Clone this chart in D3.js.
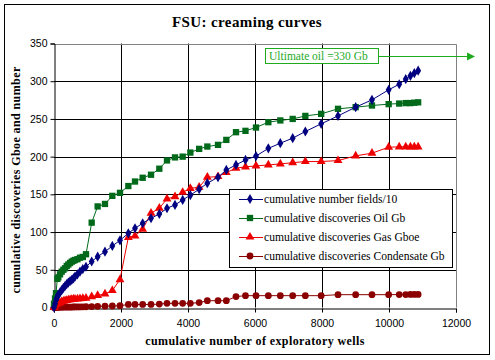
<!DOCTYPE html>
<html>
<head>
<meta charset="utf-8">
<title>FSU creaming curves</title>
<script src="https://cdn.jsdelivr.net/npm/d3@7"></script>
<style>
  body { margin: 0; background: #fff; }
</style>
</head>
<body>
<script>
// cumulative number of exploratory wells
var wells = [0, 30, 60, 100, 128, 180, 230, 280, 330, 380, 428, 480, 530, 580, 627, 700, 776, 860, 955,
  1125, 1303, 1522, 1741, 1970, 2219, 2418, 2647, 2896, 3144, 3373, 3612, 3841, 4070, 4333, 4577, 4896,
  5144, 5433, 5716, 6030, 6398, 6756, 7125, 7503, 7975, 8478, 9005, 9492, 9990, 10305, 10500, 10640, 10755, 10870];

var fields = [0, 5, 10, 14, 17, 20, 23, 26, 28.5, 31, 33, 35, 36.5, 38.5, 41, 44, 47.5, 51, 54,
  61, 67.4, 74, 81.6, 89, 98.4, 105, 111.7, 118.3, 124, 131.6, 136, 142.6, 149, 156.8, 164.8, 172.7,
  182.4, 189, 195.7, 200.7, 211, 217.8, 224.5, 233.3, 243.5, 254, 265.6, 275.3, 288.6, 296, 302.8, 307.2, 310.7, 314];

var oil = [5, 12, 19, 38, 40, 44, 47.5, 50, 52, 55, 57, 59, 60.8, 62, 63, 64, 66, 67, 70.6,
  112.5, 134, 137.3, 148, 152, 161, 167, 172, 176, 184, 195, 199, 200, 205.4, 210.3, 213.4, 215.6,
  222.2, 232.4, 234.2, 238.6, 245.7, 248, 250, 254, 256.7, 263.4, 265.6, 267.8, 269.6, 270.4, 271, 271, 271.5, 272];

var gas = [0, 2, 4, 5, 5.6, 6.5, 7.7, 8.5, 9, 9.5, 10, 10.5, 10.9, 11, 11.2, 11.5, 11.8, 12, 12.5,
  14.3, 16, 18, 22.5, 37, 93, 95, 103.7, 125, 131.6, 144, 147, 152.8, 158, 159.5, 172.7, 173.6,
  178.9, 184.7, 186.5, 187.7, 189, 190.4, 192, 193.5, 193.5, 194.8, 201, 204.6, 212.5, 213, 213, 213, 213, 213];

var condensate = [0, 0.1, 0.2, 0.3, 0.3, 0.4, 0.4, 0.5, 0.5, 0.5, 0.6, 0.6, 0.6, 0.7, 0.7, 0.8, 0.8, 0.9, 1,
  1.2, 1.5, 1.8, 2, 2.4, 4, 4, 4, 4, 4.5, 5.5, 5.5, 5.5, 5.5, 6.5, 9, 9, 9,
  14.5, 15.7, 15.7, 15.7, 15.7, 15.7, 15.7, 15.7, 17, 17, 17, 17, 17.2, 17.2, 17.3, 17.3, 17.3];

var seriesNames = ["cumulative number fields/10", "cumulative discoveries Oil Gb",
  "cumulative discoveries Gas Gboe", "cumulative discoveries Condensate Gb"];

var xTicks = [0, 2000, 4000, 6000, 8000, 10000, 12000];
var yTicks = [0, 50, 100, 150, 200, 250, 300, 350];

var width = 495, height = 360;
var serif = "Liberation Serif, Times New Roman, serif";
var svg = d3.select("body").append("svg")
  .attr("width", width)
  .attr("height", height);

// chart frame
svg.append("rect")
  .attr("x", 4.5).attr("y", 4.5)
  .attr("width", 485).attr("height", 350)
  .attr("fill", "#fff").attr("stroke", "#000");

var plot = { left: 54, right: 456, top: 43.5, bottom: 307.5 };

var x = d3.scaleLinear().domain([0, 12000]).range([plot.left, plot.right]);
var y = d3.scaleLinear().domain([0, 350]).range([plot.bottom, plot.top]);

svg.append("text")
  .attr("x", 247).attr("y", 27)
  .attr("text-anchor", "middle")
  .attr("font-family", serif)
  .attr("font-size", 15).attr("font-weight", "bold")
  .attr("letter-spacing", 0.4)
  .text("FSU: creaming curves");

// grid
var grid = svg.append("g");
grid.selectAll("line.h")
  .data(yTicks.slice(1, -1))
  .enter().append("line")
  .attr("x1", plot.left).attr("x2", plot.right)
  .attr("y1", function(d) { return Math.round(y(d)) + 0.5; })
  .attr("y2", function(d) { return Math.round(y(d)) + 0.5; })
  .attr("stroke", "#000");
grid.selectAll("line.v")
  .data(xTicks.slice(1, -1))
  .enter().append("line")
  .attr("y1", plot.top).attr("y2", plot.bottom)
  .attr("x1", function(d) { return Math.round(x(d)) + 0.5; })
  .attr("x2", function(d) { return Math.round(x(d)) + 0.5; })
  .attr("stroke", "#000");

// gray top/right border
svg.append("path")
  .attr("d", "M" + plot.left + "," + (Math.round(plot.top) + 0.5) + "H" + (plot.right + 0.5) + "V" + plot.bottom)
  .attr("fill", "none").attr("stroke", "#808080");

// axes
var xAxis = svg.append("g")
  .attr("transform", "translate(0," + (Math.round(plot.bottom) + 0.5) + ")")
  .call(d3.axisBottom(x).tickValues(xTicks).tickSize(4).tickFormat(d3.format("d")));
var yAxis = svg.append("g")
  .attr("transform", "translate(" + (plot.left + 0.5) + ",0)")
  .call(d3.axisLeft(y).tickValues(yTicks).tickSize(4));
[xAxis, yAxis].forEach(function(a) {
  a.select(".domain").attr("stroke", "#000");
  a.selectAll(".tick line").attr("stroke", "#000");
  a.selectAll("text")
    .attr("font-family", "Liberation Sans, Arial, sans-serif")
    .attr("font-size", 10.5).attr("fill", "#000");
});
xAxis.selectAll("text").attr("dy", "1.05em");
yAxis.selectAll("text").attr("x", -7);

svg.append("text")
  .attr("x", 255).attr("y", 345)
  .attr("text-anchor", "middle")
  .attr("font-family", serif)
  .attr("font-size", 12).attr("font-weight", "bold")
  .attr("letter-spacing", 0.4)
  .text("cumulative number of exploratory wells");

svg.append("text")
  .attr("transform", "translate(20,180) rotate(-90)")
  .attr("text-anchor", "middle")
  .attr("font-family", serif)
  .attr("font-size", 12).attr("font-weight", "bold")
  .attr("letter-spacing", 0.4)
  .text("cumulative discoveries Gboe and number");

// series
var series = [
  { name: seriesNames[0], values: fields, color: "#000080", symbol: d3.symbolDiamond, size: 30 },
  { name: seriesNames[1], values: oil, color: "#006a1a", symbol: d3.symbolSquare, size: 40 },
  { name: seriesNames[2], values: gas, color: "#ee0000", symbol: d3.symbolTriangle, size: 34 },
  { name: seriesNames[3], values: condensate, color: "#8b0000", symbol: d3.symbolCircle, size: 36 }
];

var line = d3.line()
  .x(function(d) { return x(d[0]); })
  .y(function(d) { return y(d[1]); });

series.slice().reverse().forEach(function(s) {
  var pts = wells.map(function(w, i) { return [w, s.values[i]]; });
  var g = svg.append("g");
  g.append("path")
    .attr("d", line(pts))
    .attr("fill", "none")
    .attr("stroke", s.color)
    .attr("stroke-width", 1);
  g.selectAll("path.m")
    .data(pts)
    .enter().append("path")
    .attr("transform", function(d) { return "translate(" + x(d[0]) + "," + y(d[1]) + ")"; })
    .attr("d", d3.symbol().type(s.symbol).size(s.size))
    .attr("fill", s.color);
});

// legend
var legend = svg.append("g");
legend.append("rect")
  .attr("x", 229.5).attr("y", 189.5)
  .attr("width", 223).attr("height", 78)
  .attr("fill", "#fff").attr("stroke", "#000");
series.forEach(function(s, i) {
  var ly = 199 + i * 19;
  legend.append("line")
    .attr("x1", 239).attr("x2", 263)
    .attr("y1", ly + 0.5).attr("y2", ly + 0.5)
    .attr("stroke", s.color);
  legend.append("path")
    .attr("transform", "translate(250," + ly + ")")
    .attr("d", d3.symbol().type(s.symbol).size(s.size))
    .attr("fill", s.color);
  legend.append("text")
    .attr("x", 264).attr("y", ly + 4)
    .attr("font-family", serif)
    .attr("font-size", 11.6)
    .text(s.name);
});

// ultimate oil annotation
var ann = svg.append("g");
ann.append("rect")
  .attr("x", 265.5).attr("y", 48.5)
  .attr("width", 113).attr("height", 15)
  .attr("fill", "#fff").attr("stroke", "#1faa1f");
ann.append("text")
  .attr("x", 269).attr("y", 60)
  .attr("font-family", serif)
  .attr("font-size", 11.5)
  .attr("fill", "#1faa1f")
  .text("Ultimate oil =330 Gb");
ann.append("line")
  .attr("x1", 379).attr("x2", 469)
  .attr("y1", 56.5).attr("y2", 56.5)
  .attr("stroke", "#1faa1f");
ann.append("path")
  .attr("d", "M467,52.5L475,56.5L467,60.5Z")
  .attr("fill", "#1faa1f");
</script>
</body>
</html>
